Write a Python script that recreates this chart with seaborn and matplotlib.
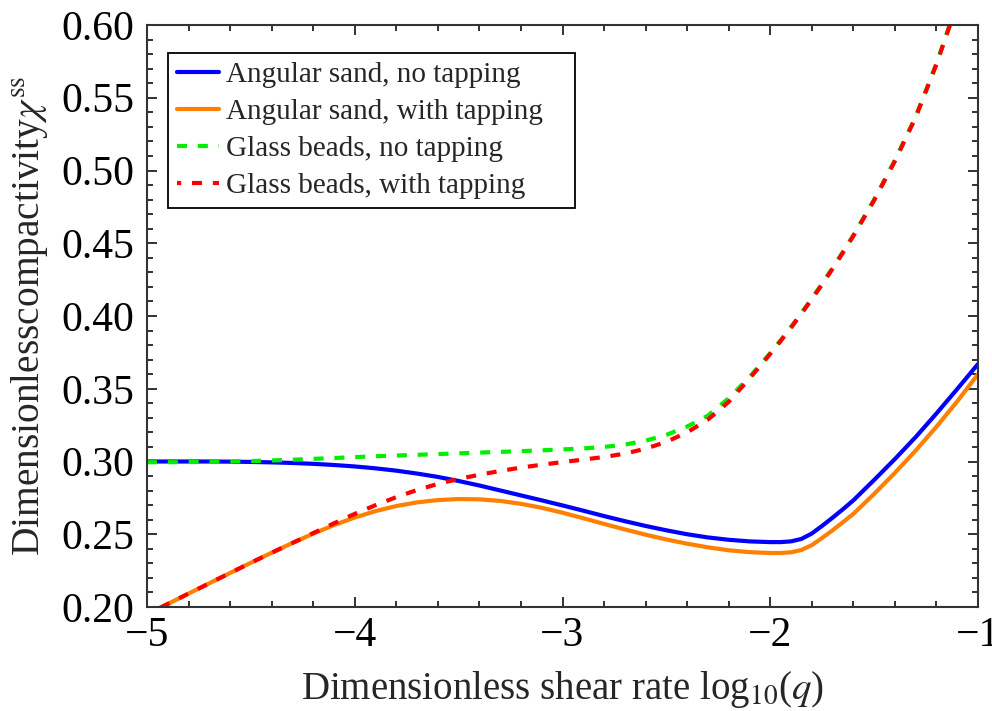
import matplotlib
matplotlib.use("Agg")
import matplotlib.pyplot as plt
import seaborn as sns
import pandas as pd
from matplotlib.ticker import MultipleLocator

# log10 of the dimensionless shear rate (denser sampling around the minimum knee)
log10_q = [-5.0, -4.9, -4.8, -4.7, -4.6, -4.5, -4.4, -4.3, -4.2, -4.1,
           -4.0, -3.9, -3.8, -3.7, -3.6, -3.5, -3.4, -3.3, -3.2, -3.1,
           -3.0, -2.9, -2.8, -2.7, -2.6, -2.5, -2.4, -2.3, -2.2, -2.1,
           -2.0, -1.95, -1.9, -1.85, -1.8, -1.75, -1.7, -1.65, -1.6, -1.5,
           -1.4, -1.3, -1.2, -1.1, -1.0]

# steady-state dimensionless compactivity
sand_no_tap = [0.3000, 0.3000, 0.3000, 0.3000, 0.2999, 0.2997, 0.2994, 0.2990, 0.2984, 0.2976,
               0.2966, 0.2953, 0.2937, 0.2917, 0.2894, 0.2866, 0.2835, 0.2801, 0.2767, 0.2733,
               0.2698, 0.2662, 0.2625, 0.2590, 0.2557, 0.2527, 0.2500, 0.2478, 0.2462, 0.2451,
               0.2446, 0.2446, 0.2451, 0.2468, 0.2505, 0.2558, 0.2614, 0.2672, 0.2733, 0.2873,
               0.3017, 0.3168, 0.3330, 0.3498, 0.3670]

sand_tap = [0.1950, 0.2021, 0.2092, 0.2163, 0.2234, 0.2304, 0.2373, 0.2440, 0.2504, 0.2563,
            0.2615, 0.2659, 0.2694, 0.2719, 0.2735, 0.2742, 0.2740, 0.2729, 0.2709, 0.2682,
            0.2648, 0.2610, 0.2571, 0.2533, 0.2497, 0.2464, 0.2435, 0.2410, 0.2390, 0.2377,
            0.2371, 0.2371, 0.2376, 0.2392, 0.2425, 0.2475, 0.2527, 0.2583, 0.2640, 0.2777,
            0.2922, 0.3075, 0.3239, 0.3413, 0.3600]

beads_no_tap = [0.2995, 0.2995, 0.2996, 0.2998, 0.3000, 0.3003, 0.3007, 0.3012, 0.3018, 0.3024,
                0.3030, 0.3036, 0.3041, 0.3046, 0.3051, 0.3056, 0.3061, 0.3066, 0.3071, 0.3077,
                0.3083, 0.3090, 0.3100, 0.3116, 0.3143, 0.3183, 0.3240, 0.3315, 0.3435, 0.3580,
                0.3745, 0.3833, 0.3925, 0.4021, 0.4120, 0.4223, 0.4330, 0.4441, 0.4555, 0.4800,
                0.5070, 0.5370, 0.5735, 0.6150, 0.6620]

beads_tap = [0.1950, 0.2021, 0.2092, 0.2163, 0.2234, 0.2304, 0.2373, 0.2440, 0.2508, 0.2575,
             0.2640, 0.2700, 0.2755, 0.2804, 0.2846, 0.2880, 0.2909, 0.2935, 0.2958, 0.2978,
             0.2996, 0.3013, 0.3031, 0.3054, 0.3088, 0.3135, 0.3200, 0.3288, 0.3410, 0.3570,
             0.3740, 0.3828, 0.3920, 0.4016, 0.4115, 0.4218, 0.4325, 0.4436, 0.4550, 0.4795,
             0.5065, 0.5365, 0.5730, 0.6145, 0.6615]

labels = ["Angular sand, no tapping", "Angular sand, with tapping",
          "Glass beads, no tapping", "Glass beads, with tapping"]
colors = ["#0000FF", "#FF8000", "#00EE00", "#FF0000"]
styles = ["-", "-", (0, (2.4, 2.6)), (1.4, (2.4, 2.6))]
y_ticks = [0.20, 0.25, 0.30, 0.35, 0.40, 0.45, 0.50, 0.55, 0.60]
x_ticks = [-5, -4, -3, -2, -1]

sns.set_theme(style="ticks")
plt.rcParams["font.family"] = ["Liberation Serif", "DejaVu Serif"]
plt.rcParams["mathtext.fontset"] = "stix"
plt.rcParams["axes.unicode_minus"] = True

fig = plt.figure(figsize=(9.92, 7.11), dpi=100)
ax = fig.add_axes([147 / 992, 1 - 607 / 711, 831 / 992, 582 / 711])

series = [sand_no_tap, sand_tap, beads_no_tap, beads_tap]
for vals, lab, col, ls in zip(series, labels, colors, styles):
    df = pd.DataFrame({"log10q": log10_q, "chi": vals})
    sns.lineplot(data=df, x="log10q", y="chi", ax=ax, color=col, label=lab,
                 linewidth=3.0, linestyle=ls, sort=False)

ax.set_xlim(-5, -1)
ax.set_ylim(0.20, 0.60)
ax.set_xticks(x_ticks)
ax.set_yticks(y_ticks)
ax.set_yticklabels([f"{v:.2f}" for v in y_ticks])
ax.set_xticklabels([f"\u2212{abs(v)}" for v in x_ticks])
ax.xaxis.set_minor_locator(MultipleLocator(0.2))
ax.yaxis.set_minor_locator(MultipleLocator(0.01))
ax.tick_params(which="both", direction="in", top=True, right=True,
               colors="#222222", labelcolor="black", width=1.3)
ax.tick_params(which="major", length=7, labelsize=30)
ax.tick_params(which="minor", length=4)
ax.tick_params(axis="y", pad=9)
ax.tick_params(axis="x", pad=7)
for sp in ax.spines.values():
    sp.set_color("#333333")
    sp.set_linewidth(1.5)

ax.set_xlabel(r"Dimensionless shear rate log$_{10}$($q$)", fontsize=28, labelpad=10)
ax.set_ylabel(r"Dimensionlesscompactivity$\chi^{\mathrm{ss}}$", fontsize=28.4, labelpad=8)

leg = ax.legend(loc="upper left", bbox_to_anchor=(0.0253, 0.652, 0.4898, 0.30),
                mode="expand", borderaxespad=0, fontsize=21, frameon=True,
                fancybox=False, framealpha=1, edgecolor="black",
                handlelength=1.45, handletextpad=0.25, labelspacing=0.36,
                borderpad=0.3)
leg.get_frame().set_linewidth(1.3)

fig.savefig("out.png", dpi=100, facecolor="white")
